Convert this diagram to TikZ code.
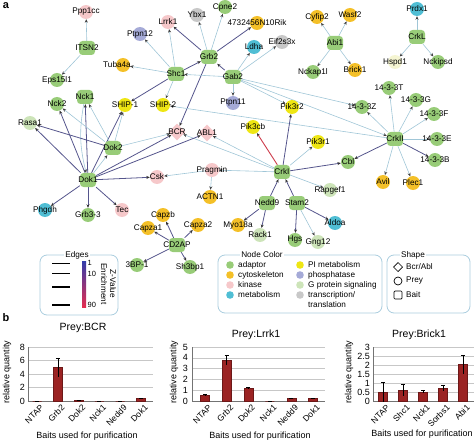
\documentclass[tikz,border=0pt]{standalone}
\usepackage{fontspec}
\setmainfont{Liberation Sans}
\usetikzlibrary{arrows.meta,shapes.geometric,backgrounds}

\definecolor{adaptor}{RGB}{152,204,120}
\definecolor{cyto}{RGB}{244,192,40}
\definecolor{kinase}{RGB}{246,200,202}
\definecolor{metab}{RGB}{80,190,212}
\definecolor{pimet}{RGB}{238,230,20}
\definecolor{phos}{RGB}{165,170,215}
\definecolor{gprot}{RGB}{205,228,185}
\definecolor{transl}{RGB}{200,200,200}
\definecolor{cream}{RGB}{245,245,210}
\definecolor{edgelight}{RGB}{160,198,215}
\definecolor{edgenavy}{RGB}{85,85,140}
\definecolor{edgered}{RGB}{205,60,75}
\definecolor{framec}{RGB}{170,205,222}
\definecolor{barc}{RGB}{155,35,35}
\definecolor{zblue}{RGB}{50,60,170}
\definecolor{zred}{RGB}{228,45,80}

\newcommand\lblsize{\fontsize{8.2}{9.5}\selectfont}
\newcommand\axsize{\fontsize{9}{10}\selectfont}

\begin{document}
\begin{tikzpicture}[x=1pt,y=-1pt,
	every node/.style={font=\lblsize,inner sep=1pt},
	prey/.style={circle,minimum size=14pt,inner sep=0pt,fill=#1},
	bait/.style={rectangle,rounded corners=3.5pt,minimum width=16pt,minimum height=14pt,inner sep=0pt,fill=adaptor},
	bcrabl/.style={diamond,minimum size=17pt,inner sep=0pt,fill=kinase},
	nm/.style={label={[font=\lblsize]center:#1}},
	lt/.style={draw=edgelight,line width=0.6pt,-{Stealth[length=3.5pt,width=3pt,color=black!75]}},
	nv/.style={draw=edgenavy,line width=0.8pt,-{Stealth[length=3.5pt,width=3pt,color=black!80]}},
	rd/.style={draw=edgered,line width=0.9pt,-{Stealth[length=3.5pt,width=3pt,color=black!80]}},
	frame/.style={draw=framec,line width=0.8pt,rounded corners=7pt},
	gridl/.style={draw=black!22,line width=0.4pt},
	axisl/.style={draw=black!55,line width=0.5pt},
	bar/.style={fill=barc,draw=barc!70!black,line width=0.3pt},
	errb/.style={draw=black,line width=0.5pt},
	tick/.style={font=\axsize,anchor=east},
	baitlbl/.style={font=\fontsize{8.5}{9}\selectfont,rotate=45,anchor=north east,inner sep=0pt},
	]
	\useasboundingbox (0,0) rectangle (474,441);

	\node[font=\bfseries\fontsize{11}{12}\selectfont] (pa) at (6,6) {a};
	\node[font=\bfseries\fontsize{11}{12}\selectfont] (pb) at (6,318) {b};

	% baits
	\node[bait,nm=ITSN2] (itsn) at (87,48) {};
	\node[bait,nm=Nck1] (ncka) at (85,97) {};
	\node[bait,nm=Grb2] (grb) at (209,57) {};
	\node[bait,nm=Shc1] (shc) at (176,74) {};
	\node[bait,nm=Gab2] (gab) at (233,77) {};
	\node[bait,nm=Abi1] (abi) at (335,43) {};
	\node[bait,nm=CrkL] (crkl) at (417,37) {};
	\node[bait,nm=CrkII] (crkii) at (395,139) {};
	\node[bait,nm=CrkI] (crk) at (282,172) {};
	\node[bait,nm=Nedd9] (nedd) at (267,203) {};
	\node[bait,nm=Stam2] (stam) at (297,203) {};
	\node[bait,nm=CD2AP] (cdap) at (177,245) {};
	\node[bait,nm=Dok2] (dokb) at (113,148) {};
	\node[bait,nm=Dok1] (doka) at (88,180) {};

	% bcr/abl
	\node[bcrabl,nm=BCR] (bcr) at (177,132) {};
	\node[bcrabl,nm=ABL1] (abl) at (207,133) {};

	% preys
	\node[prey=kinase,nm=Ppp1cc] (ppp) at (86,12) {};
	\node[prey=adaptor,nm=Eps15l1] (eps) at (57,80) {};
	\node[prey=adaptor,nm=Nck2] (nckb) at (57,104) {};
	\node[prey=phos,nm=Ptpn12] (ptpnl) at (140,34) {};
	\node[prey=cyto,label={[font=\lblsize,xshift=-6pt]center:Tuba4a}] (tuba) at (123,65) {};
	\node[prey=pimet,nm=SHIP-1] (shipa) at (125,105) {};
	\node[prey=pimet,nm=SHIP-2] (shipb) at (163,105) {};
	\node[prey=kinase,nm=Lrrk1] (lrrk) at (168,22) {};
	\node[prey=transl,nm=Ybx1] (ybx) at (197,15) {};
	\node[prey=adaptor,nm=Cpne2] (cpne) at (225,7) {};
	\node[prey=cyto,nm=4732456N10Rik] (rik) at (257,23) {};
	\node[prey=metab,nm=Ldha] (ldha) at (254,47) {};
	\node[prey=transl,nm=Eif2s3x] (eif) at (282,42) {};
	\node[prey=phos,nm=Ptpn11] (ptpnk) at (233,103) {};
	\node[prey=pimet,nm=Pik3r2] (pikrb) at (292,107) {};
	\node[prey=cyto,nm=Cyfip2] (cyf) at (317,17) {};
	\node[prey=cyto,nm=Wasf2] (wasf) at (350,15) {};
	\node[prey=adaptor,nm=Nckap1l] (nckap) at (313,72) {};
	\node[prey=cyto,nm=Brick1] (brick) at (355,70) {};
	\node[prey=metab,nm=Prdx1] (prdx) at (417,9) {};
	\node[prey=cream,nm=Hspd1] (hspd) at (395,62) {};
	\node[prey=adaptor,nm=Nckipsd] (nckip) at (438,62) {};
	\node[prey=adaptor,nm=14-3-3T] (ftt) at (389,88) {};
	\node[prey=adaptor,nm=14-3-3G] (ftg) at (416,100) {};
	\node[prey=adaptor,nm=14-3-3Z] (ftz) at (362,107) {};
	\node[prey=adaptor,nm=14-3-3F] (ftf) at (434,114) {};
	\node[prey=adaptor,nm=14-3-3E] (fte) at (437,139) {};
	\node[prey=adaptor,nm=14-3-3B] (ftb) at (435,160) {};
	\node[prey=adaptor,nm=Cbl] (cbl) at (348,162) {};
	\node[prey=cyto,nm=Avil] (avil) at (383,182) {};
	\node[prey=cyto,nm=Plec1] (plec) at (413,183) {};
	\node[prey=gprot,nm=Rapgef1] (rapg) at (330,190) {};
	\node[prey=pimet,nm=Pik3r1] (pikra) at (318,142) {};
	\node[prey=pimet,nm=Pik3cb] (pikcb) at (253,127) {};
	\node[prey=kinase,nm=Pragmin] (prag) at (212,170) {};
	\node[prey=kinase,nm=Csk] (csk) at (157,177) {};
	\node[prey=cyto,nm=ACTN1] (actn) at (210,197) {};
	\node[prey=cyto,nm=Myo18a] (myo) at (238,225) {};
	\node[prey=gprot,nm=Rack1] (rack) at (260,235) {};
	\node[prey=adaptor,nm=Hgs] (hgs) at (295,240) {};
	\node[prey=gprot,nm=Gng12] (gng) at (318,242) {};
	\node[prey=metab,nm=Aldoa] (aldo) at (335,223) {};
	\node[prey=cyto,nm=Capzb] (capzb) at (163,215) {};
	\node[prey=cyto,nm=Capza1] (capzaa) at (148,228) {};
	\node[prey=cyto,nm=Capza2] (capzab) at (198,225) {};
	\node[prey=adaptor,nm=3BP-1] (tbp) at (137,265) {};
	\node[prey=adaptor,nm=Sh3bp1] (shbp) at (190,267) {};
	\node[prey=gprot,nm=Rasa1] (rasa) at (30,123) {};
	\node[prey=metab,nm=Phgdh] (phg) at (45,210) {};
	\node[prey=adaptor,nm=Grb3-3] (grbt) at (88,215) {};
	\node[prey=kinase,nm=Tec] (tec) at (122,210) {};

	\begin{scope}[on background layer]
		% ITSN2, Grb2, Gab2, Shc1
		\draw[lt] (itsn) -- (ppp);
		\draw[lt] (itsn) -- (eps);
		\draw[nv] (grb) -- (lrrk);
		\draw[lt] (grb) -- (ybx);
		\draw[lt] (grb) -- (cpne);
		\draw[nv] (grb) -- (rik);
		\draw[nv,{Stealth[length=3.5pt,width=3pt,color=black!80]}-] (grb) -- (shc);
		\draw[nv] (gab) -- (grb);
		\draw[nv] (grb) -- (bcr);
		\draw[lt] (gab) -- (shc);
		\draw[lt] (shc) -- (lrrk);
		\draw[lt] (shc) -- (ptpnl);
		\draw[lt] (shc) -- (tuba);
		\draw[nv] (shc) -- (shipa);
		\draw[lt] (shc) -- (shipb);
		\draw[lt] (gab) -- (ldha);
		\draw[lt] (gab) -- (eif);
		\draw[lt] (gab) -- (ptpnk);
		\draw[lt] (gab) -- (pikrb);
		\draw[lt] (gab) -- (ftz);
		\draw[lt] (gab) -- (crkii);
		% Abi1, CrkL, CrkII
		\draw[lt] (abi) -- (cyf);
		\draw[lt] (abi) -- (wasf);
		\draw[lt] (abi) -- (nckap);
		\draw[lt] (abi) -- (brick);
		\draw[lt] (crkl) -- (prdx);
		\draw[lt] (crkl) -- (hspd);
		\draw[lt] (crkl) -- (nckip);
		\draw[lt] (crkii) -- (ftt);
		\draw[lt] (crkii) -- (ftg);
		\draw[lt] (crkii) -- (ftz);
		\draw[lt] (crkii) -- (ftf);
		\draw[lt] (crkii) -- (fte);
		\draw[nv] (crkii) -- (ftb);
		\draw[nv] (crkii) -- (cbl);
		\draw[lt] (crkii) -- (avil);
		\draw[lt] (crkii) -- (plec);
		\draw[lt] (crkii) -- (shipb);
		% CrkI
		\draw[rd] (crk) -- (pikcb);
		\draw[nv] (crk) -- (pikrb);
		\draw[lt] (crk) -- (pikra);
		\draw[nv] (crk) -- (cbl);
		\draw[lt] (crk) -- (rapg);
		\draw[lt] (crk) -- (prag);
		\draw[lt] (crk) -- (abl);
		\draw[lt] (crk) -- (bcr);
		\draw[nv] (nedd) -- (crk);
		\draw[nv] (stam) -- (crk);
		% Pragmin, Nedd9, Stam2, CD2AP
		\draw[lt] (prag) -- (csk);
		\draw[lt] (prag) -- (actn);
		\draw[nv] (nedd) -- (myo);
		\draw[nv] (nedd) -- (rack);
		\draw[nv] (stam) -- (hgs);
		\draw[lt] (stam) -- (gng);
		\draw[nv] (stam) -- (aldo);
		\draw[nv] (cdap) -- (capzb);
		\draw[nv] (cdap) -- (capzaa);
		\draw[nv] (cdap) -- (capzab);
		\draw[nv] (cdap) -- (tbp);
		\draw[nv] (cdap) -- (shbp);
		% Dok1, Dok2
		\draw[nv] (doka) -- (rasa);
		\draw[nv] (doka) -- (nckb);
		\draw[nv] (doka) -- (ncka);
		\draw[lt] (ncka) to[bend right=12] (doka);
		\draw[nv] (doka) -- (shipa);
		\draw[lt] (doka) -- (dokb);
		\draw[nv] (doka) -- (bcr);
		\draw[nv] (doka) -- (abl);
		\draw[nv] (doka) -- (csk);
		\draw[nv] (doka) -- (tec);
		\draw[nv] (doka) -- (grbt);
		\draw[nv] (doka) -- (phg);
		\draw[nv] (dokb) -- (rasa);
		\draw[lt] (dokb) -- (nckb);
		\draw[lt] (dokb) -- (ncka);
		\draw[lt] (dokb) -- (shipa);
		\draw[lt] (dokb) -- (bcr);
	\end{scope}

	% legend: edges
	\draw[frame] (40,255) rectangle (118,315);
	\node[fill=white] (edgetitle) at (77,255) {Edges};
	\draw[line width=0.4pt] (52,263) -- (70,263);
	\draw[line width=0.7pt] (52,273) -- (70,273);
	\draw[line width=1.1pt] (52,287) -- (70,287);
	\draw[line width=2.2pt] (52,305) -- (70,305);
	\shade[top color=zblue,bottom color=zred] (82,261) rectangle (86,307);
	\node[anchor=west,font=\fontsize{7.5}{9}\selectfont,inner sep=0.5pt] (zone) at (87,263) {1};
	\node[anchor=west,font=\fontsize{7.5}{9}\selectfont,inner sep=0.5pt] (zten) at (87,274) {10};
	\node[anchor=west,font=\fontsize{7.5}{9}\selectfont,inner sep=0.5pt] (zninety) at (87,305) {90};
	\node[rotate=-90] (enrich) at (104,284) {Enrichment};
	\node[rotate=-90] (zval) at (113,284) {Z-Value};

	% legend: node color
	\draw[frame] (218,255) rectangle (382,313);
	\node[fill=white] (colortitle) at (262,255) {Node Color};
	\foreach \yy/\cc/\txt [count=\i] in {265/adaptor/adaptor,275/cyto/cytoskeleton,285/kinase/kinase,295/metab/metabolism} {
		\fill[\cc] (230,\yy) circle (3.8);
		\node[anchor=west] (cl\i) at (237,\yy) {\txt};
	}
	\foreach \yy/\cc/\txt [count=\i] in {265/pimet/{PI metabolism},275/phos/{phosphatase},285/gprot/{G protein signaling},295/transl/{transcription/}} {
		\fill[\cc] (300,\yy) circle (3.8);
		\node[anchor=west] (cr\i) at (307,\yy) {\txt};
	}
	\node[anchor=west] (crtrans) at (307,305) {translation};

	% legend: shape
	\draw[frame] (387,255) rectangle (470,313);
	\node[fill=white] (shapetitle) at (413,255) {Shape};
	\draw[line width=0.7pt] (398,262.5) -- (402.5,267) -- (398,271.5) -- (393.5,267) -- cycle;
	\draw[line width=0.7pt] (398,281) circle (4);
	\draw[line width=0.7pt,rounded corners=1pt] (394,291) rectangle (402,299);
	\node[anchor=west] (shbcr) at (405,267) {Bcr/Abl};
	\node[anchor=west] (shprey) at (405,281) {Prey};
	\node[anchor=west] (shbait) at (405,295) {Bait};

	% chart: Prey BCR
	\node[font=\fontsize{10.5}{12}\selectfont] (tbcr) at (83,328) {Prey:BCR};
	\foreach \t [count=\i] in {0,2,4,6,8} {
		\draw[gridl] (28,{401-\t*6.75}) -- (153,{401-\t*6.75});
		\node[tick] (ya\i) at (26,{401-\t*6.75}) {\t};
	}
	\draw[axisl] (28,347) -- (28,401) -- (153,401);
	\foreach \xb/\v/\e/\b [count=\i] in {37/0/0/NTAP,57.8/5/1.4/Grb2,78.6/0.06/0/Dok2,99.4/0/0/Nck1,120.2/0/0/Nedd9,141/0.35/0.05/Dok1} {
		\draw[bar] (\xb-4.5,401) rectangle (\xb+4.5,{401-\v*6.75});
		\draw[errb] (\xb,{401-(\v+\e)*6.75}) -- (\xb,{401-(\v-\e)*6.75});
		\draw[errb] (\xb-2,{401-(\v+\e)*6.75}) -- (\xb+2,{401-(\v+\e)*6.75});
		\node[baitlbl] (xa\i) at (\xb+3,404) {\b};
	}
	\node[rotate=90,font=\axsize] (qa) at (7,372) {relative quantity};
	\node[font=\axsize] (pua) at (87,436) {Baits used for purification};

	% chart: Prey Lrrk1
	\node[font=\fontsize{10.5}{12}\selectfont] (tlrrk) at (256,335) {Prey:Lrrk1};
	\foreach \t [count=\i] in {0,1,2,3,4,5} {
		\draw[gridl] (192,{401-\t*10.8}) -- (325,{401-\t*10.8});
		\node[tick] (yb\i) at (189,{401-\t*10.8}) {\t};
	}
	\draw[axisl] (192,347) -- (192,401) -- (325,401);
	\foreach \xb/\v/\e/\b [count=\i] in {205/0.55/0.07/NTAP,226.6/3.75/0.45/Grb2,248.2/1.2/0.05/Dok2,269.8/0/0/Nck1,291.4/0.25/0.04/Nedd9,313/0.25/0.05/Dok1} {
		\draw[bar] (\xb-4.5,401) rectangle (\xb+4.5,{401-\v*10.8});
		\draw[errb] (\xb,{401-(\v+\e)*10.8}) -- (\xb,{401-(\v-\e)*10.8});
		\draw[errb] (\xb-2,{401-(\v+\e)*10.8}) -- (\xb+2,{401-(\v+\e)*10.8});
		\node[baitlbl] (xb\i) at (\xb+3,404) {\b};
	}
	\node[rotate=90,font=\axsize] (qb) at (174,372) {relative quantity};
	\node[font=\axsize] (pub) at (260,436) {Baits used for purification};

	% chart: Prey Brick1
	\node[font=\fontsize{10.5}{12}\selectfont] (tbrick) at (419,335) {Prey:Brick1};
	\foreach \t [count=\i] in {0,0.5,1,1.5,2,2.5,3} {
		\draw[gridl] (373,{401-\t*18}) -- (474,{401-\t*18});
		\node[tick] (yc\i) at (371,{401-\t*18}) {\t};
	}
	\draw[axisl] (373,347) -- (373,401) -- (474,401);
	\foreach \xb/\v/\e/\b [count=\i] in {383/0.5/0.55/NTAP,403/0.6/0.32/Shc1,423/0.5/0.07/Nck1,443/0.72/0.17/Sorbs1,463/2.03/0.53/Abi1} {
		\draw[bar] (\xb-4.5,401) rectangle (\xb+4.5,{401-\v*18});
		\draw[errb] (\xb,{401-(\v+\e)*18}) -- (\xb,{401-(\v-\e)*18});
		\draw[errb] (\xb-2,{401-(\v+\e)*18}) -- (\xb+2,{401-(\v+\e)*18});
		\node[baitlbl] (xc\i) at (\xb+3,404) {\b};
	}
	\node[rotate=90,font=\axsize] (qc) at (349,372) {relative quantity};
	\node[font=\axsize] (puc) at (422,434) {Baits used for purification};
\end{tikzpicture}
\end{document}
